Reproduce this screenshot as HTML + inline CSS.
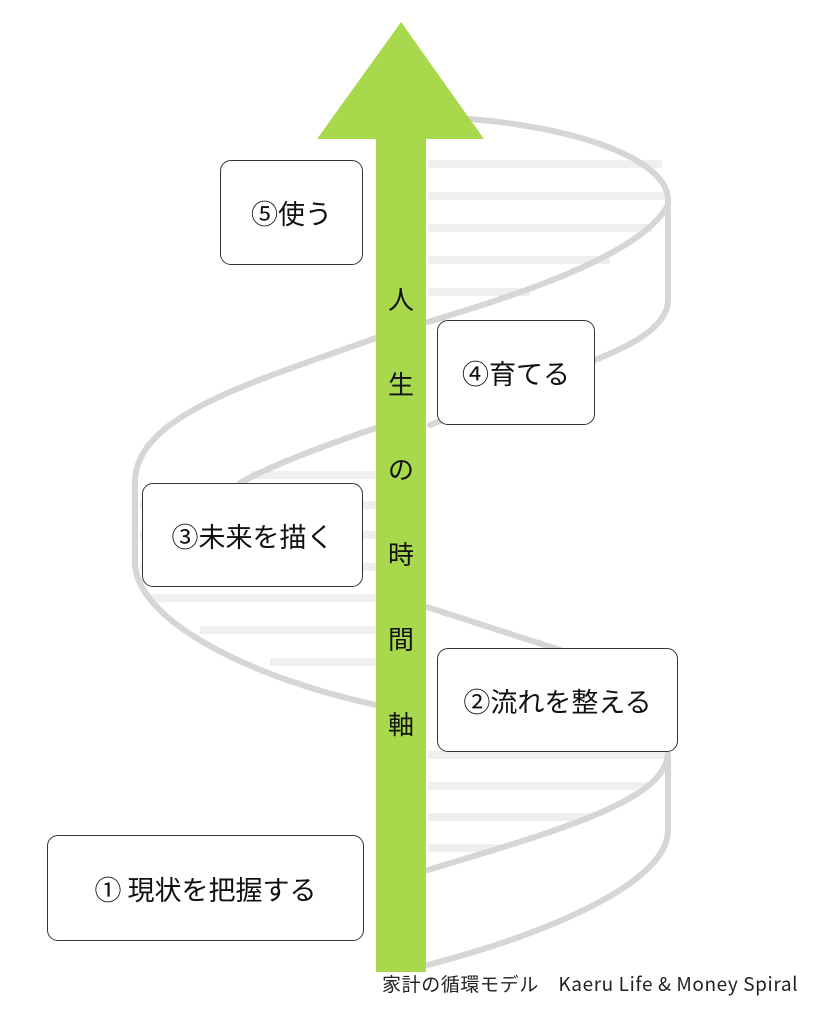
<!DOCTYPE html>
<html><head><meta charset="utf-8"><style>
html,body{margin:0;padding:0;background:#fff;}
body{width:819px;height:1024px;position:relative;overflow:hidden;font-family:"Noto Sans CJK JP",sans-serif;}
.box{position:absolute;box-sizing:border-box;border:1.5px solid #333;border-radius:11px;background:#fff;display:flex;align-items:center;justify-content:center;font-size:27px;color:#111;white-space:nowrap;}
.ax{position:absolute;left:376px;width:50px;text-align:center;font-size:26px;color:#111;line-height:30px;}
.foot{position:absolute;left:382px;top:971px;font-size:19px;letter-spacing:0.6px;line-height:26px;color:#222;white-space:nowrap;}
</style></head><body>
<svg width="819" height="1024" style="position:absolute;left:0;top:0">
<g stroke="#efefef" stroke-width="8" fill="none">
<line x1="428" y1="164" x2="662" y2="164"/>
<line x1="428" y1="196" x2="668" y2="196"/>
<line x1="428" y1="228" x2="652" y2="228"/>
<line x1="428" y1="260" x2="610" y2="260"/>
<line x1="428" y1="292" x2="530" y2="292"/>
<line x1="250" y1="475" x2="376" y2="475"/>
<line x1="140" y1="505" x2="376" y2="505"/>
<line x1="140" y1="535" x2="376" y2="535"/>
<line x1="140" y1="567" x2="376" y2="567"/>
<line x1="150" y1="598" x2="376" y2="598"/>
<line x1="200" y1="630" x2="376" y2="630"/>
<line x1="270" y1="662" x2="376" y2="662"/>
<line x1="428" y1="755" x2="665" y2="755"/>
<line x1="428" y1="786" x2="648" y2="786"/>
<line x1="428" y1="817" x2="590" y2="817"/>
<line x1="428" y1="848" x2="500" y2="848"/>
</g>
<g stroke="#d6d6d6" stroke-width="6" fill="none" stroke-linecap="round">
<path d="M470,119 C580,128 668,160 668,200 L668,300 C668,330 620,350 595,360 L430,425"/>
<path d="M668,205 C640,258 500,300 428,322"/>
<path d="M376,338 C250,383 138,415 135,480 L135,565 C140,625 260,680 376,705"/>
<path d="M376,428 C320,447 270,466 240,483"/>
<path d="M427,607 L560,650"/>
<path d="M428,870 C560,830 668,800 668,752 L668,833"/>
<path d="M428,965 C560,930 668,880 668,830"/>
</g>
<polygon points="401,22 317,139 484,139" fill="#a8d94c"/>
<rect x="376" y="138" width="50" height="834" fill="#a8d94c"/>
</svg>
<div class="ax" style="top:284px">人</div>
<div class="ax" style="top:369px">生</div>
<div class="ax" style="top:454px">の</div>
<div class="ax" style="top:539px">時</div>
<div class="ax" style="top:624px">間</div>
<div class="ax" style="top:709px">軸</div>
<div class="box" style="left:220px;top:160px;width:143px;height:105px">⑤使う</div>
<div class="box" style="left:437px;top:320px;width:158px;height:105px">④育てる</div>
<div class="box" style="left:142px;top:483px;width:221px;height:104px">③未来を描く</div>
<div class="box" style="left:437px;top:648px;width:241px;height:104px">②流れを整える</div>
<div class="box" style="left:47px;top:835px;width:317px;height:106px">① 現状を把握する</div>
<div class="foot">家計の循環モデル　Kaeru Life &amp; Money Spiral</div>
</body></html>
